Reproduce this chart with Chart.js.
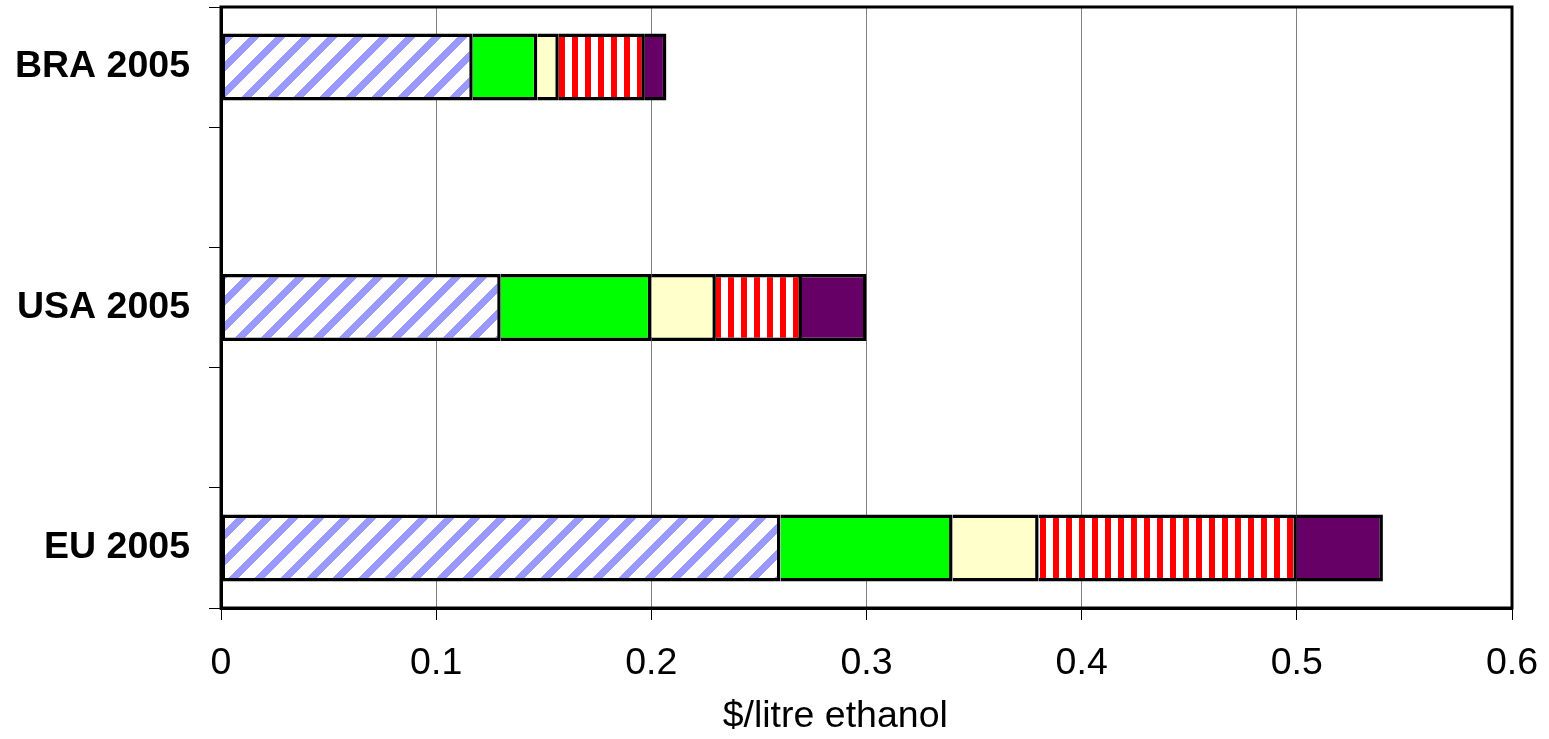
<!DOCTYPE html>
<html>
<head>
<meta charset="utf-8">
<script src="https://cdn.jsdelivr.net/npm/chart.js@4.4.1/dist/chart.umd.min.js"></script>
<style>
  html, body { margin: 0; padding: 0; background: #fff; }
  canvas { display: block; }
</style>
</head>
<body>
<canvas id="chart" width="1549" height="739"></canvas>
<script>
// Rows of the chart (blank rows leave space between the regions)
const categories = ['BRA 2005', '', 'USA 2005', '', 'EU 2005'];

// Cost components, $/litre ethanol
const feedstock  = [0.117, null, 0.13, null, 0.26];
const energy     = [0.030, null, 0.07, null, 0.08];
const chemicals  = [0.010, null, 0.03, null, 0.04];
const capital    = [0.040, null, 0.04, null, 0.12];
const other      = [0.010, null, 0.03, null, 0.04];

// Value axis ticks
const xTickValues = [0, 0.1, 0.2, 0.3, 0.4, 0.5, 0.6];
const xTickLabels = ['0', '0.1', '0.2', '0.3', '0.4', '0.5', '0.6'];
const xTitle = '$/litre ethanol';

const FONT = "'Liberation Sans', Arial, Helvetica, sans-serif";
const FONT_SIZE = 37.5;

// Diagonal lavender hatch on white, built pixel by pixel so it tiles seamlessly
function hatchPattern() {
  const P = 26, W = 10;
  const c = document.createElement('canvas');
  c.width = P; c.height = P;
  const g = c.getContext('2d');
  const img = g.createImageData(P, P);
  for (let y = 0; y < P; y++) {
    for (let x = 0; x < P; x++) {
      const i = (y * P + x) * 4;
      const on = ((x + y) % P) < W;
      img.data[i]     = on ? 0x99 : 0xff;
      img.data[i + 1] = on ? 0x99 : 0xff;
      img.data[i + 2] = 0xff;
      img.data[i + 3] = 255;
    }
  }
  g.putImageData(img, 0, 0);
  return g.createPattern(c, 'repeat');
}

// Vertical red / white stripes
function stripePattern() {
  const c = document.createElement('canvas');
  c.width = 13; c.height = 4;
  const g = c.getContext('2d');
  g.fillStyle = '#ffffff';
  g.fillRect(0, 0, 13, 4);
  g.fillStyle = '#ff0000';
  g.fillRect(0, 0, 6, 4);
  return g.createPattern(c, 'repeat');
}

const innerBorder = { top: 3.5, bottom: 3.5, left: 0, right: 3.5 };
const firstBorder = { top: 3.5, bottom: 3.5, left: 3.5, right: 3.5 };

function seg(label, data, bg, bw) {
  return {
    label, data,
    backgroundColor: bg,
    borderColor: '#000000',
    borderWidth: bw,
    borderSkipped: false,
    barPercentage: 0.557,
    categoryPercentage: 1.0
  };
}

// Frame closing the plot area on the top and right
const plotFrame = {
  id: 'plotFrame',
  afterDraw(chart) {
    const { ctx, chartArea: a } = chart;
    ctx.save();
    ctx.strokeStyle = '#000';
    ctx.lineWidth = 3;
    ctx.strokeRect(a.left, a.top, a.right - a.left, a.bottom - a.top);
    ctx.restore();
  }
};

new Chart(document.getElementById('chart'), {
  type: 'bar',
  data: {
    labels: categories,
    datasets: [
      seg('Feedstock', feedstock, hatchPattern(), firstBorder),
      seg('Energy', energy, '#00ff00', innerBorder),
      seg('Chemicals', chemicals, '#ffffcc', innerBorder),
      seg('Capital', capital, stripePattern(), innerBorder),
      seg('Other', other, '#660066', innerBorder)
    ]
  },
  options: {
    indexAxis: 'y',
    responsive: false,
    animation: false,
    devicePixelRatio: 1,
    layout: { padding: { top: 7, right: 37, bottom: 0, left: 0 } },
    plugins: {
      legend: { display: false },
      tooltip: { enabled: false }
    },
    scales: {
      x: {
        type: 'linear',
        stacked: true,
        min: 0,
        max: 0.6,
        afterBuildTicks(scale) {
          scale.ticks = xTickValues.map(v => ({ value: v }));
        },
        afterFit(scale) {
          scale.height = 131;
          scale.paddingLeft = 0;
          scale.paddingRight = 0;
        },
        ticks: {
          color: '#000',
          padding: 21,
          font: { family: FONT, size: FONT_SIZE },
          callback: (v) => {
            const i = xTickValues.findIndex(t => Math.abs(t - v) < 1e-9);
            return i >= 0 ? xTickLabels[i] : '';
          }
        },
        grid: {
          color: '#808080',
          tickColor: '#000',
          lineWidth: 1,
          drawTicks: true,
          tickLength: 12
        },
        border: { display: true, color: '#000', width: 3 },
        title: {
          display: true,
          text: xTitle + '      ',
          color: '#000',
          padding: 0,
          font: { family: FONT, size: FONT_SIZE }
        }
      },
      y: {
        type: 'category',
        stacked: true,
        afterFit(scale) {
          scale.width = 221;
          scale.paddingTop = 0;
          scale.paddingBottom = 0;
        },
        ticks: {
          color: '#000',
          padding: 19,
          font: { family: FONT, size: FONT_SIZE, weight: 'bold' }
        },
        grid: {
          display: true,
          offset: true,
          drawOnChartArea: false,
          drawTicks: true,
          tickLength: 12,
          color: '#000',
          lineWidth: 1
        },
        border: { display: true, color: '#000', width: 3 }
      }
    }
  },
  plugins: [plotFrame]
});
</script>
</body>
</html>
